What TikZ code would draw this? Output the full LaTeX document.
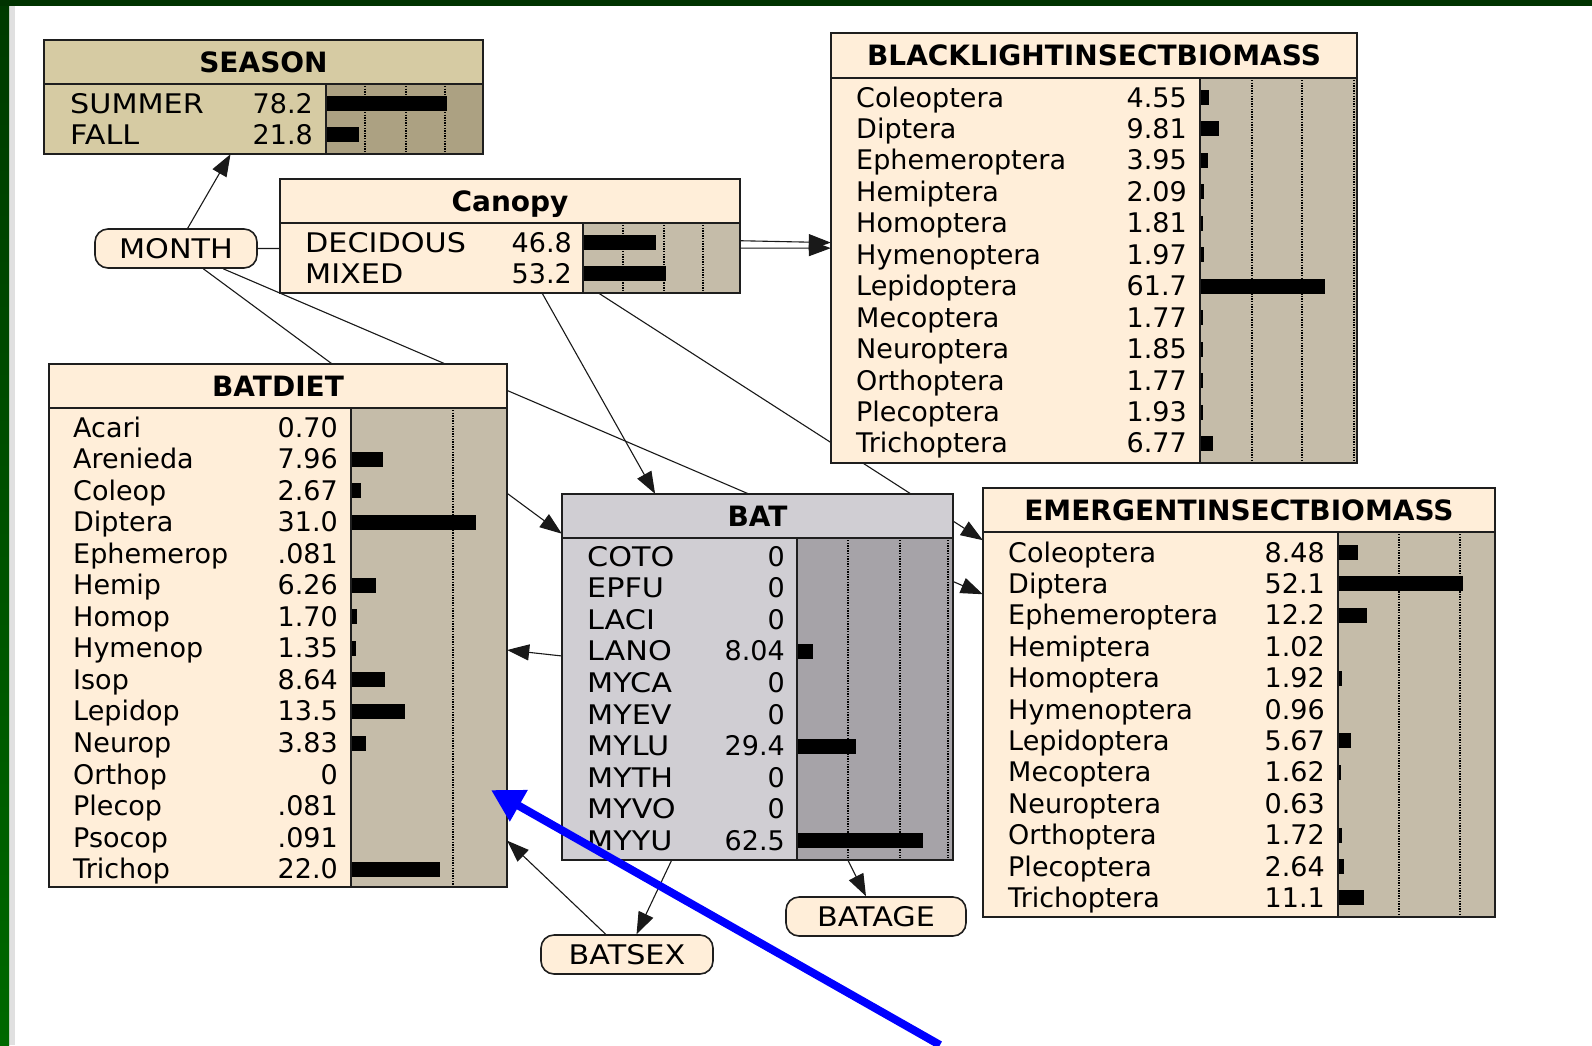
\documentclass[tikz,border=0pt]{standalone}
\usepackage{fontspec}
\setmainfont{DejaVu Sans}
\newfontfamily\widefam[FakeStretch=1.12]{DejaVu Sans}
\usetikzlibrary{arrows.meta,fit}
\definecolor{cream}{HTML}{FFEED9}
\definecolor{tanbar}{HTML}{C5BCA9}
\definecolor{seasonlight}{HTML}{D6CBA3}
\definecolor{seasonbar}{HTML}{ACA182}
\definecolor{batlight}{HTML}{D0CED3}
\definecolor{batbar}{HTML}{A6A3A8}
\definecolor{edgecol}{HTML}{1E1E1E}
\definecolor{framegreen}{HTML}{003300}
\definecolor{greentop}{HTML}{003A00}
\definecolor{greenbot}{HTML}{006800}
\pgfdeclarelayer{bgzero}
\pgfdeclarelayer{links}
\pgfsetlayers{bgzero,links,main}
\newcommand\rowf{\fontsize{27}{30}\selectfont}
\newcommand\capf{\widefam\fontsize{27}{30}\selectfont}
\newcommand\titf{\bfseries\fontsize{28}{30}\selectfont}
\tikzset{
  boxline/.style={draw=edgecol, line width=1.8pt},
  gridline/.style={black, line width=1.2pt, dash pattern=on 1.3pt off 1.3pt},
  link/.style={black!90, line width=1.1pt},
  arr/.style={-{Triangle[length=22pt,width=16pt]}},
  oval/.style={inner sep=0pt, draw=edgecol, line width=1.6pt, fill=cream, rounded corners=13pt},
  boxfill/.style={inner sep=0pt}
}
% name x1 y1 x2 y2 div split light bar
\newcommand\NetBox[9]{%
  \node[boxfill, fit={(#2,#3) (#4,#5)}, fill=#8] (#1) {};
  \fill[#9] (#7,#6) rectangle (#4,#5);
}
% x1 y1 x2 y2 div split
\newcommand\BoxLines[6]{%
  \draw[boxline] (#1,#5) -- (#3,#5) (#6,#5) -- (#6,#4);
  \draw[boxline] (#1,#2) rectangle (#3,#4);
}
% ytop ybottom list
\newcommand\Grid[3]{%
  \foreach \gx in {#3} {\draw[gridline] (\gx,#1+2) -- (\gx,#2-2);}
}
% firsty spacing labelx valuex split scale font list
\newcommand\Rows[8]{%
  \foreach \lab/\val/\pct [count=\i from 0] in {#8}{%
    \pgfmathsetmacro\yy{#1+\i*#2}%
    \pgfmathsetmacro\bw{\pct*#6-1.5}%
    \node[anchor=base west, inner sep=0pt] at (#3,\yy+10) {#7\lab};%
    \node[anchor=base east, inner sep=0pt] at (#4,\yy+10) {\rowf\val};%
    \ifdim\bw pt>1.5pt \fill[black] (#5+1,\yy-7) rectangle (#5+1+\bw,\yy+8);\fi
  }%
}
\begin{document}
\begin{tikzpicture}[x=1pt,y=-1pt]
\useasboundingbox (0,0) rectangle (1592,1045);
\begin{pgfonlayer}{bgzero}
  \fill[white] (0,0) rectangle (1592,1045);
  \fill[black!12] (9,6) rectangle (15,1045);
  \shade[top color=greentop, bottom color=greenbot] (0,0) rectangle (9,1045);
  \fill[framegreen] (0,0) rectangle (1592,6);
\end{pgfonlayer}

% ---------- SEASON ----------
\NetBox{season}{44}{40}{483}{154}{84}{326}{seasonlight}{seasonbar}
\Grid{84}{154}{365,406,445}
\Rows{103}{31}{70}{313}{326}{1.55}{\capf}{SUMMER/78.2/78.2, FALL/21.8/21.8}
\node[anchor=base, inner sep=0pt] at (263.5,72) {\titf SEASON};
\BoxLines{44}{40}{483}{154}{84}{326}

% ---------- Canopy ----------
\NetBox{canopy}{280}{179}{740}{293}{223}{583}{cream}{tanbar}
\Grid{223}{293}{623,664,703}
\Rows{242}{31}{305}{572}{583}{1.56}{\capf}{DECIDOUS/46.8/46.8, MIXED/53.2/53.2}
\node[anchor=base, inner sep=0pt] at (510,211) {\titf Canopy};
\BoxLines{280}{179}{740}{293}{223}{583}

% ---------- BLACKLIGHTINSECTBIOMASS ----------
\NetBox{black}{831}{33}{1357}{463}{78}{1200}{cream}{tanbar}
\Grid{78}{463}{1252,1302,1354}
\Rows{97}{31.45}{856}{1187}{1200}{2.03}{\rowf}{Coleoptera/4.55/4.55, Diptera/9.81/9.81, Ephemeroptera/3.95/3.95, Hemiptera/2.09/2.09, Homoptera/1.81/1.81, Hymenoptera/1.97/1.97, Lepidoptera/61.7/61.7, Mecoptera/1.77/1.77, Neuroptera/1.85/1.85, Orthoptera/1.77/1.77, Plecoptera/1.93/1.93, Trichoptera/6.77/6.77}
\node[anchor=base, inner sep=0pt] at (1094,65.5) {\titf BLACKLIGHTINSECTBIOMASS};
\BoxLines{831}{33}{1357}{463}{78}{1200}

% ---------- BATDIET ----------
\NetBox{batdiet}{49}{364}{507}{887}{408}{351}{cream}{tanbar}
\Grid{408}{887}{453}
\Rows{427}{31.55}{73}{338}{351}{4.05}{\rowf}{Acari/0.70/0.70, Arenieda/7.96/7.96, Coleop/2.67/2.67, Diptera/31.0/31.0, Ephemerop/.081/0.081, Hemip/6.26/6.26, Homop/1.70/1.70, Hymenop/1.35/1.35, Isop/8.64/8.64, Lepidop/13.5/13.5, Neurop/3.83/3.83, Orthop/0/0, Plecop/.081/0.081, Psocop/.091/0.091, Trichop/22.0/22.0}
\node[anchor=base, inner sep=0pt] at (278,396) {\titf BATDIET};
\BoxLines{49}{364}{507}{887}{408}{351}

% ---------- BAT ----------
\NetBox{bat}{562}{494}{953}{860}{538}{797}{batlight}{batbar}
\Grid{538}{860}{848,900,948}
\Rows{556}{31.6}{587}{785}{797}{2.03}{\capf}{COTO/0/0, EPFU/0/0, LACI/0/0, LANO/8.04/8.04, MYCA/0/0, MYEV/0/0, MYLU/29.4/29.4, MYTH/0/0, MYVO/0/0, MYYU/62.5/62.5}
\node[anchor=base, inner sep=0pt] at (757.5,526) {\titf BAT};
\BoxLines{562}{494}{953}{860}{538}{797}

% ---------- EMERGENTINSECTBIOMASS ----------
\NetBox{emerg}{983}{488}{1495}{917}{532}{1338}{cream}{tanbar}
\Grid{532}{917}{1399,1460}
\Rows{552}{31.4}{1008}{1325}{1338}{2.4}{\rowf}{Coleoptera/8.48/8.48, Diptera/52.1/52.1, Ephemeroptera/12.2/12.2, Hemiptera/1.02/1.02, Homoptera/1.92/1.92, Hymenoptera/0.96/0.96, Lepidoptera/5.67/5.67, Mecoptera/1.62/1.62, Neuroptera/0.63/0.63, Orthoptera/1.72/1.72, Plecoptera/2.64/2.64, Trichoptera/11.1/11.1}
\node[anchor=base, inner sep=0pt] at (1239,520) {\titf EMERGENTINSECTBIOMASS};
\BoxLines{983}{488}{1495}{917}{532}{1338}

% ---------- oval nodes ----------
\node[oval, fit={(95,229) (257,268)}] (month) {};
\node[anchor=base, inner sep=0pt] at (176,258.5) {\capf MONTH};
\node[oval, fit={(541,935) (713,974)}] (batsex) {};
\node[anchor=base, inner sep=0pt] at (627,964.5) {\capf BATSEX};
\node[oval, fit={(786,897) (966,936)}] (batage) {};
\node[anchor=base, inner sep=0pt] at (876,926.5) {\capf BATAGE};

% ---------- links (behind the nodes) ----------
\begin{pgfonlayer}{links}
  \draw[link, arr] (month) -- (season);
  \draw[link, arr] (month) -- (black);
  \draw[link, arr] (canopy) -- (black);
  \draw[link, arr] (month) -- (bat);
  \draw[link, arr] (month) -- (emerg);
  \draw[link, arr] (canopy) -- (emerg);
  \draw[link, arr] (canopy) -- (bat);
  \draw[link, arr] (bat) -- (batdiet);
  \draw[link, arr] (batsex) -- (batdiet);
  \draw[link, arr] (bat) -- (batsex);
  \draw[link, arr] (bat) -- (batage);
\end{pgfonlayer}

% ---------- blue pointer ----------
\coordinate (blueStart) at (940,1045);
\coordinate (blueTip) at (491,790);
\draw[blue, line width=8pt, -{Triangle[length=32pt,width=34pt]}] (blueStart) -- (blueTip);
\end{tikzpicture}
\end{document}
